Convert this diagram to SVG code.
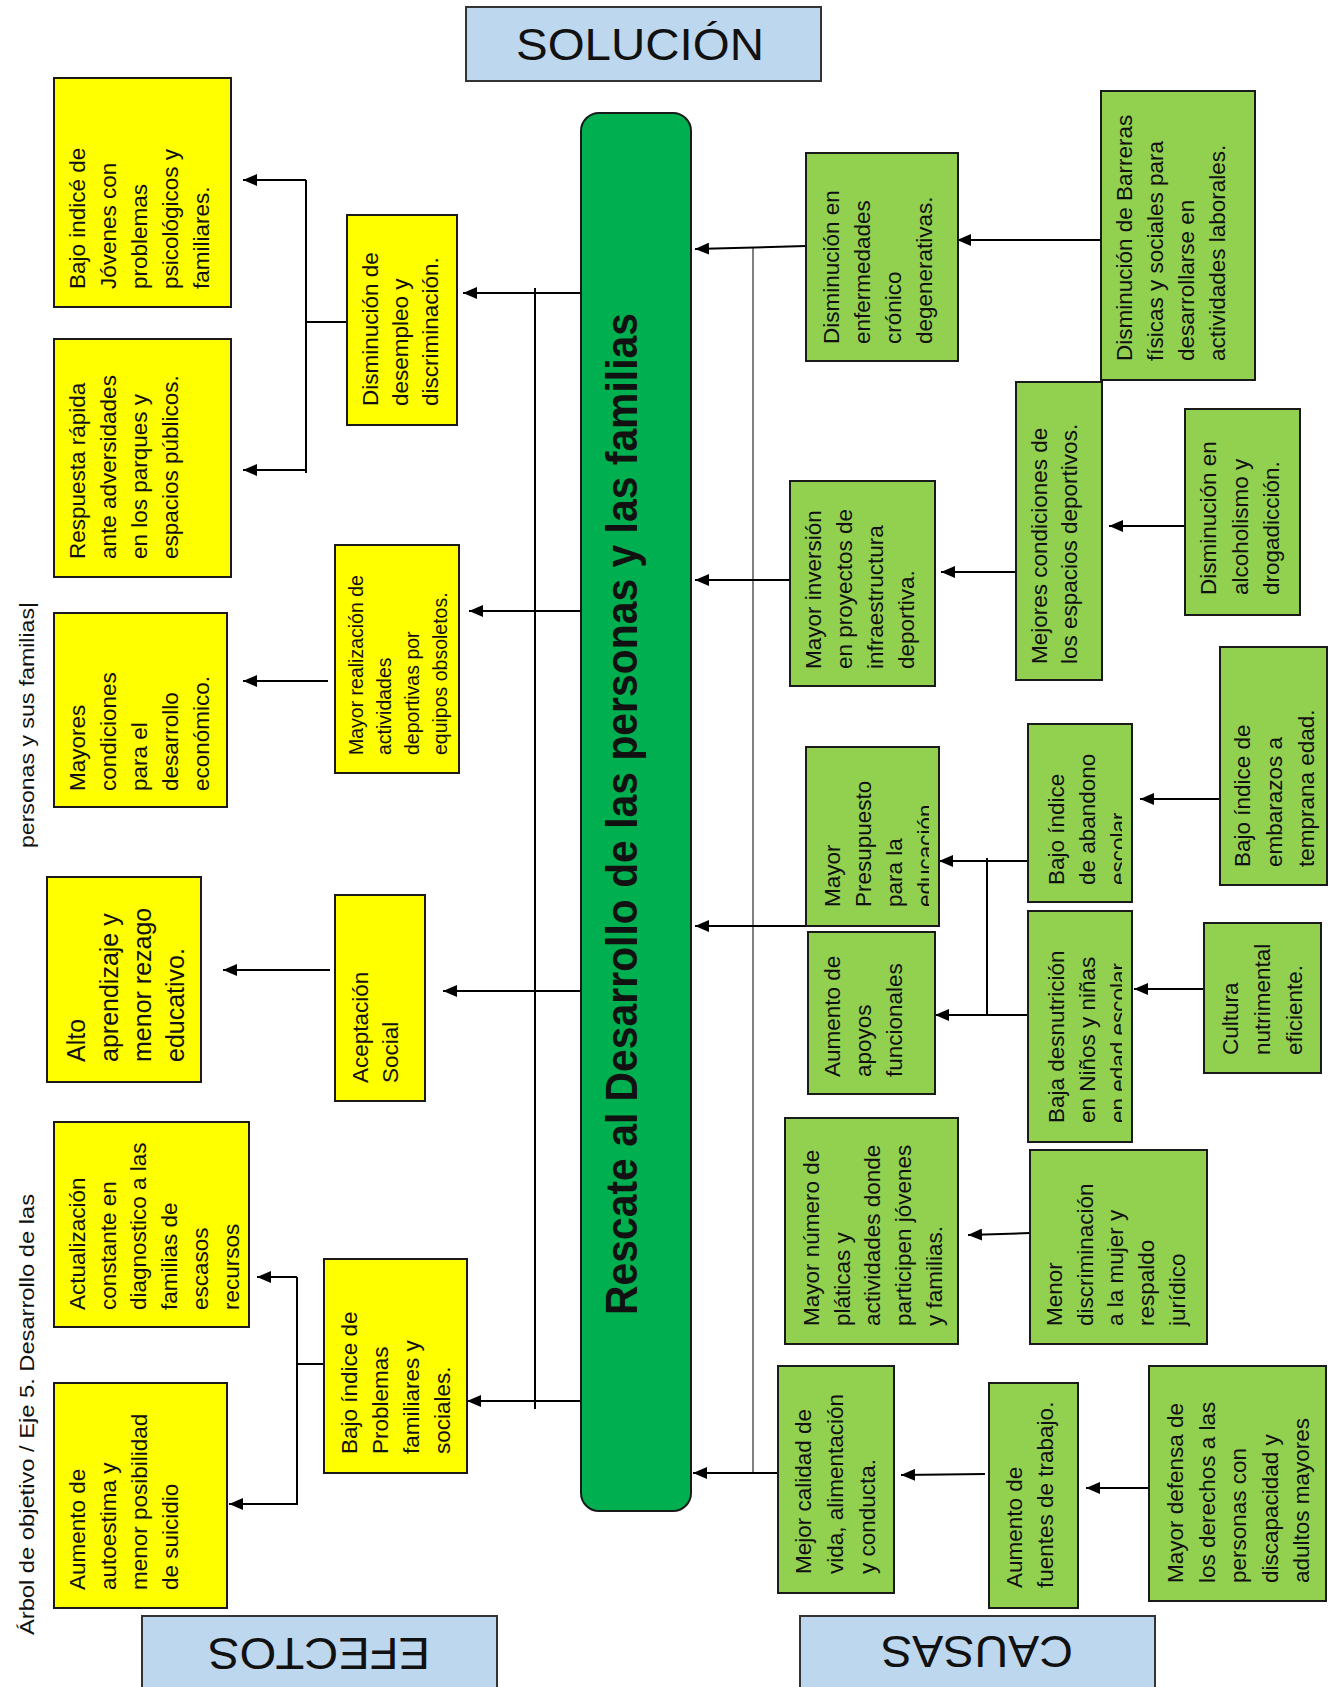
<svg xmlns="http://www.w3.org/2000/svg" width="1334" height="1687" viewBox="0 0 1334 1687">
<style>
.bg{fill:#fff}
.y{fill:#ffff00;stroke:#1a1a1a;stroke-width:2}
.g{fill:#92d050;stroke:#1a1a1a;stroke-width:2}
.h{fill:#bdd7ee;stroke:#333;stroke-width:2}
.t{font-family:"Liberation Sans",Arial,sans-serif;font-size:22.5px;fill:#111}
.ht{font-family:"Liberation Sans",Arial,sans-serif;font-size:44px;fill:#111}
.side{font-family:"Liberation Sans Narrow","Liberation Sans",Arial,sans-serif;font-size:21px;fill:#111}
.c{fill:none;stroke:#000;stroke-width:2}
.a{fill:none;stroke:#000;stroke-width:2;marker-end:url(#ah)}
.gray{fill:none;stroke:#808080;stroke-width:2}
</style>
<defs>
<marker id="ah" markerWidth="14" markerHeight="12" refX="14" refY="6" orient="auto" markerUnits="userSpaceOnUse"><path d="M0,0 L14,6 L0,12 z" fill="#000"/></marker>
<clipPath id="clipC6"><rect x="806" y="747" width="123" height="179"/></clipPath>
<clipPath id="clipC8"><rect x="1028" y="724" width="94" height="178"/></clipPath>
<clipPath id="clipC9"><rect x="1028" y="911" width="94" height="231"/></clipPath>
</defs>
<rect class="bg" x="0" y="0" width="1334" height="1687"/>

<!-- Side caption -->
<g id="caption">
<text class="side" transform="translate(34,1635) rotate(-90)" textLength="441" lengthAdjust="spacingAndGlyphs">Árbol de objetivo / Eje 5. Desarrollo de las</text>
<text class="side" transform="translate(34,848) rotate(-90)" textLength="246" lengthAdjust="spacingAndGlyphs">personas y sus familias|</text>
</g>

<!-- Headers -->
<g id="solucion">
<rect class="h" x="466" y="7" width="355" height="74"/>
<text class="ht" x="516" y="60" textLength="248" lengthAdjust="spacingAndGlyphs">SOLUCIÓN</text>
</g>
<g id="efectos">
<rect class="h" x="142" y="1616" width="355" height="90"/>
<text class="ht" transform="translate(430,1638) rotate(180)" textLength="222" lengthAdjust="spacingAndGlyphs">EFECTOS</text>
</g>
<g id="causas">
<rect class="h" x="800" y="1616" width="355" height="90"/>
<text class="ht" transform="translate(1073,1636) rotate(180)" textLength="192" lengthAdjust="spacingAndGlyphs">CAUSAS</text>
</g>

<!-- Connectors -->
<g id="connectors">
<!-- left -->
<line class="c" x1="535" y1="288" x2="535" y2="1409"/>
<line class="a" x1="581" y1="293" x2="463" y2="293"/>
<line class="a" x1="581" y1="611" x2="469" y2="611"/>
<line class="a" x1="328" y1="681" x2="243" y2="681"/>
<line class="a" x1="581" y1="991" x2="443" y2="991"/>
<line class="a" x1="330" y1="970" x2="223" y2="970"/>
<line class="a" x1="581" y1="1401" x2="467" y2="1401"/>
<line class="c" x1="347" y1="322" x2="306" y2="322"/>
<line class="c" x1="306" y1="180" x2="306" y2="473"/>
<line class="a" x1="306" y1="180" x2="243" y2="180"/>
<line class="a" x1="306" y1="470" x2="243" y2="470"/>
<line class="c" x1="327" y1="1364" x2="297" y2="1364"/>
<line class="c" x1="297" y1="1277" x2="297" y2="1505"/>
<line class="a" x1="297" y1="1277" x2="257" y2="1277"/>
<line class="a" x1="297" y1="1504" x2="229" y2="1504"/>
<!-- right -->
<line class="gray" x1="753" y1="248" x2="753" y2="1472"/>
<line class="a" x1="806" y1="246" x2="695" y2="249"/>
<line class="a" x1="1101" y1="240" x2="957" y2="240"/>
<line class="a" x1="1185" y1="526" x2="1109" y2="526"/>
<line class="a" x1="1016" y1="572" x2="941" y2="572"/>
<line class="a" x1="790" y1="580" x2="695" y2="580"/>
<line class="a" x1="806" y1="926" x2="695" y2="926"/>
<line class="a" x1="1220" y1="799" x2="1140" y2="799"/>
<line class="a" x1="1205" y1="989" x2="1134" y2="989"/>
<line class="a" x1="1028" y1="861" x2="939" y2="861"/>
<line class="a" x1="1028" y1="1015" x2="935" y2="1015"/>
<line class="c" x1="987" y1="858" x2="987" y2="1015"/>
<line class="a" x1="1030" y1="1233" x2="968" y2="1235"/>
<line class="a" x1="985" y1="1474" x2="901" y2="1475"/>
<line class="a" x1="1149" y1="1488" x2="1086" y2="1488"/>
<line class="a" x1="778" y1="1473" x2="693" y2="1473"/>
</g>

<!-- Main node -->
<g id="main">
<rect x="581" y="113" width="110" height="1398" rx="18" ry="18" fill="#00b050" stroke="#1a1a1a" stroke-width="2"/>
<text transform="translate(637,1315) rotate(-90)" font-family="Liberation Sans, Arial, sans-serif" font-weight="bold" font-size="44" fill="#111" textLength="1002" lengthAdjust="spacingAndGlyphs">Rescate al Desarrollo de las personas y las familias</text>
</g>

<!-- Effects -->
<g id="e1">
<rect class="y" x="54" y="78" width="177" height="229"/>
<text class="t" transform="translate(85,289) rotate(-90)"><tspan x="0" y="0">Bajo indicé de</tspan><tspan x="0" dy="31">Jóvenes con</tspan><tspan x="0" dy="31">problemas</tspan><tspan x="0" dy="31">psicológicos y</tspan><tspan x="0" dy="31">familiares.</tspan></text>
</g>
<g id="e2">
<rect class="y" x="54" y="339" width="177" height="238"/>
<text class="t" transform="translate(85,559) rotate(-90)"><tspan x="0" y="0">Respuesta rápida</tspan><tspan x="0" dy="31">ante adversidades</tspan><tspan x="0" dy="31">en los parques y</tspan><tspan x="0" dy="31">espacios públicos.</tspan></text>
</g>
<g id="e3">
<rect class="y" x="347" y="215" width="110" height="210"/>
<text class="t" transform="translate(378,406) rotate(-90)"><tspan x="0" y="0">Disminución de</tspan><tspan x="0" dy="30">desempleo y</tspan><tspan x="0" dy="30">discriminación.</tspan></text>
</g>
<g id="e5">
<rect class="y" x="335" y="545" width="124" height="228"/>
<text class="t" style="font-size:19.5px" transform="translate(363,755) rotate(-90)"><tspan x="0" y="0">Mayor realización de</tspan><tspan x="0" dy="28">actividades</tspan><tspan x="0" dy="28">deportivas por</tspan><tspan x="0" dy="28">equipos obsoletos.</tspan></text>
</g>
<g id="e6">
<rect class="y" x="54" y="613" width="173" height="194"/>
<text class="t" transform="translate(85,791) rotate(-90)"><tspan x="0" y="0">Mayores</tspan><tspan x="0" dy="31">condiciones</tspan><tspan x="0" dy="31">para el</tspan><tspan x="0" dy="31">desarrollo</tspan><tspan x="0" dy="31">económico.</tspan></text>
</g>
<g id="e7">
<rect class="y" x="335" y="895" width="90" height="206"/>
<text class="t" transform="translate(368,1083) rotate(-90)"><tspan x="0" y="0">Aceptación</tspan><tspan x="0" dy="30">Social</tspan></text>
</g>
<g id="e8">
<rect class="y" x="47" y="877" width="154" height="205"/>
<text class="t" style="font-size:25px" transform="translate(85,1062) rotate(-90)"><tspan x="0" y="0">Alto</tspan><tspan x="0" dy="33">aprendizaje y</tspan><tspan x="0" dy="33">menor rezago</tspan><tspan x="0" dy="33">educativo.</tspan></text>
</g>
<g id="e9">
<rect class="y" x="54" y="1122" width="195" height="205"/>
<text class="t" transform="translate(85,1310) rotate(-90)"><tspan x="0" y="0">Actualización</tspan><tspan x="0" dy="30.7">constante en</tspan><tspan x="0" dy="30.7">diagnostico a las</tspan><tspan x="0" dy="30.7">familias de</tspan><tspan x="0" dy="30.7">escasos</tspan><tspan x="0" dy="30.7">recursos</tspan></text>
</g>
<g id="e10">
<rect class="y" x="54" y="1383" width="173" height="225"/>
<text class="t" transform="translate(85,1590) rotate(-90)"><tspan x="0" y="0">Aumento de</tspan><tspan x="0" dy="31">autoestima y</tspan><tspan x="0" dy="31">menor posibilidad</tspan><tspan x="0" dy="31">de suicidio</tspan></text>
</g>
<g id="e11">
<rect class="y" x="324" y="1259" width="143" height="214"/>
<text class="t" transform="translate(357,1454) rotate(-90)"><tspan x="0" y="0">Bajo índice de</tspan><tspan x="0" dy="31">Problemas</tspan><tspan x="0" dy="31">familiares y</tspan><tspan x="0" dy="31">sociales.</tspan></text>
</g>

<!-- Causes -->
<g id="c1">
<rect class="g" x="806" y="153" width="152" height="208"/>
<text class="t" transform="translate(839,344) rotate(-90)"><tspan x="0" y="0">Disminución en</tspan><tspan x="0" dy="31">enfermedades</tspan><tspan x="0" dy="31">crónico</tspan><tspan x="0" dy="31">degenerativas.</tspan></text>
</g>
<g id="c2">
<rect class="g" x="1101" y="91" width="154" height="289"/>
<text class="t" transform="translate(1132,361) rotate(-90)"><tspan x="0" y="0">Disminución de Barreras</tspan><tspan x="0" dy="31">físicas y sociales para</tspan><tspan x="0" dy="31">desarrollarse en</tspan><tspan x="0" dy="31">actividades laborales.</tspan></text>
</g>
<g id="c3">
<rect class="g" x="1016" y="382" width="86" height="298"/>
<text class="t" transform="translate(1047,664) rotate(-90)"><tspan x="0" y="0">Mejores condiciones de</tspan><tspan x="0" dy="30">los espacios deportivos.</tspan></text>
</g>
<g id="c4">
<rect class="g" x="1185" y="409" width="115" height="206"/>
<text class="t" transform="translate(1216,595) rotate(-90)"><tspan x="0" y="0">Disminución en</tspan><tspan x="0" dy="31.5">alcoholismo y</tspan><tspan x="0" dy="31.5">drogadicción.</tspan></text>
</g>
<g id="c5">
<rect class="g" x="790" y="481" width="145" height="205"/>
<text class="t" transform="translate(821,669) rotate(-90)"><tspan x="0" y="0">Mayor inversión</tspan><tspan x="0" dy="31">en proyectos de</tspan><tspan x="0" dy="31">infraestructura</tspan><tspan x="0" dy="31">deportiva.</tspan></text>
</g>
<g id="c6">
<rect class="g" x="806" y="747" width="133" height="179"/>
<g clip-path="url(#clipC6)">
<text class="t" transform="translate(840,907) rotate(-90)"><tspan x="0" y="0">Mayor</tspan><tspan x="0" dy="31">Presupuesto</tspan><tspan x="0" dy="31">para la</tspan><tspan x="0" dy="31">educación</tspan></text>
</g>
</g>
<g id="c7">
<rect class="g" x="808" y="932" width="127" height="162"/>
<text class="t" transform="translate(840,1077) rotate(-90)"><tspan x="0" y="0">Aumento de</tspan><tspan x="0" dy="31">apoyos</tspan><tspan x="0" dy="31">funcionales</tspan></text>
</g>
<g id="c8">
<rect class="g" x="1028" y="724" width="104" height="178"/>
<g clip-path="url(#clipC8)">
<text class="t" transform="translate(1064,885) rotate(-90)"><tspan x="0" y="0">Bajo índice</tspan><tspan x="0" dy="31">de abandono</tspan><tspan x="0" dy="31">escolar</tspan></text>
</g>
</g>
<g id="c9">
<rect class="g" x="1028" y="911" width="104" height="231"/>
<g clip-path="url(#clipC9)">
<text class="t" transform="translate(1064,1123) rotate(-90)"><tspan x="0" y="0">Baja desnutrición</tspan><tspan x="0" dy="31">en Niños y niñas</tspan><tspan x="0" dy="31">en edad escolar</tspan></text>
</g>
</g>
<g id="c10">
<rect class="g" x="1220" y="647" width="107" height="238"/>
<text class="t" transform="translate(1250,867) rotate(-90)"><tspan x="0" y="0">Bajo índice de</tspan><tspan x="0" dy="32">embarazos a</tspan><tspan x="0" dy="32">temprana edad.</tspan></text>
</g>
<g id="c11">
<rect class="g" x="1204" y="923" width="117" height="150"/>
<text class="t" transform="translate(1238,1055) rotate(-90)"><tspan x="0" y="0">Cultura</tspan><tspan x="0" dy="32">nutrimental</tspan><tspan x="0" dy="32">eficiente.</tspan></text>
</g>
<g id="c12">
<rect class="g" x="785" y="1118" width="173" height="226"/>
<text class="t" transform="translate(819,1326) rotate(-90)"><tspan x="0" y="0">Mayor número de</tspan><tspan x="0" dy="30.7">pláticas y</tspan><tspan x="0" dy="30.7">actividades donde</tspan><tspan x="0" dy="30.7">participen jóvenes</tspan><tspan x="0" dy="30.7">y familias.</tspan></text>
</g>
<g id="c13">
<rect class="g" x="1030" y="1150" width="177" height="194"/>
<text class="t" transform="translate(1062,1326) rotate(-90)"><tspan x="0" y="0">Menor</tspan><tspan x="0" dy="30.7">discriminación</tspan><tspan x="0" dy="30.7">a la mujer y</tspan><tspan x="0" dy="30.7">respaldo</tspan><tspan x="0" dy="30.7">jurídico</tspan></text>
</g>
<g id="c14">
<rect class="g" x="778" y="1366" width="116" height="227"/>
<text class="t" transform="translate(811,1574) rotate(-90)"><tspan x="0" y="0">Mejor calidad de</tspan><tspan x="0" dy="32">vida, alimentación</tspan><tspan x="0" dy="32">y conducta.</tspan></text>
</g>
<g id="c15">
<rect class="g" x="989" y="1383" width="89" height="225"/>
<text class="t" transform="translate(1022,1588) rotate(-90)"><tspan x="0" y="0">Aumento de</tspan><tspan x="0" dy="31">fuentes de trabajo.</tspan></text>
</g>
<g id="c16">
<rect class="g" x="1149" y="1366" width="177" height="235"/>
<text class="t" transform="translate(1183,1583) rotate(-90)"><tspan x="0" y="0">Mayor defensa de</tspan><tspan x="0" dy="31.5">los derechos a las</tspan><tspan x="0" dy="31.5">personas con</tspan><tspan x="0" dy="31.5">discapacidad y</tspan><tspan x="0" dy="31.5">adultos mayores</tspan></text>
</g>
</svg>
